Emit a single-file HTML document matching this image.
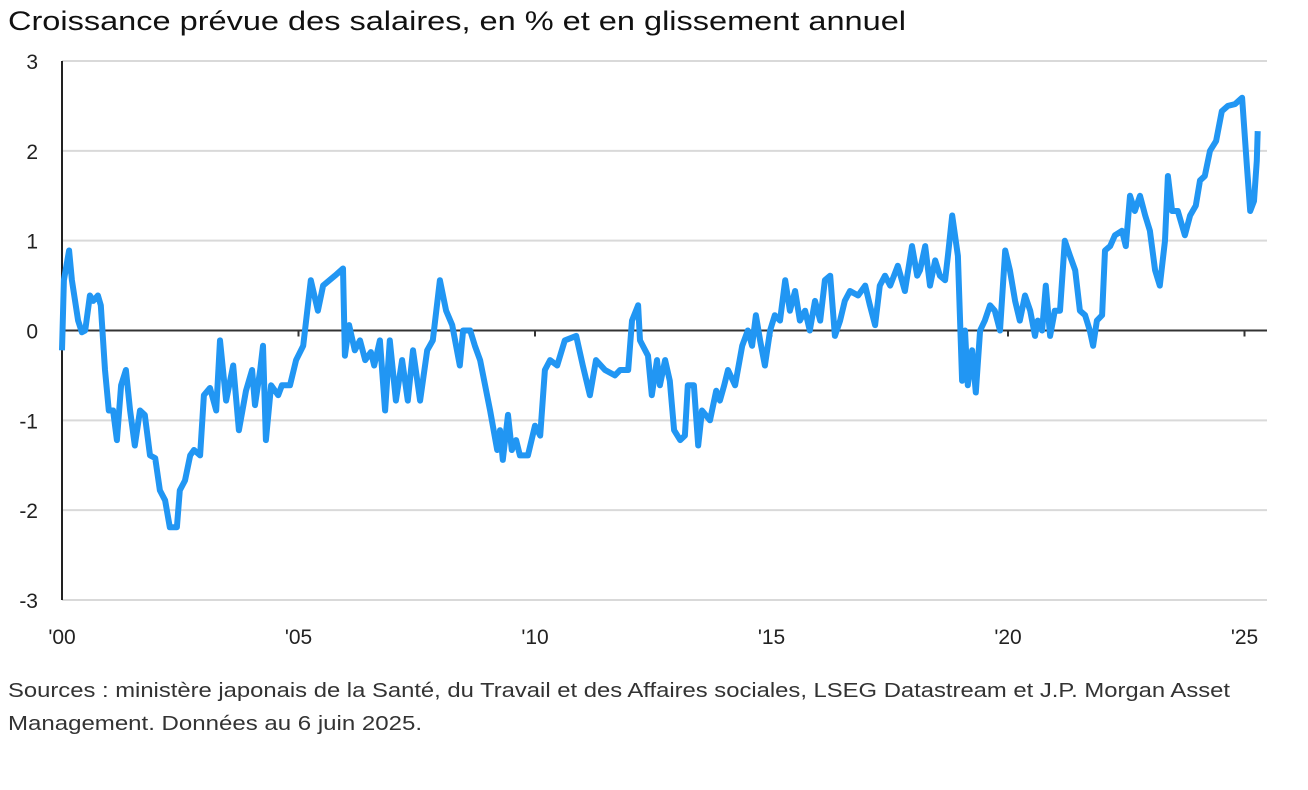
<!DOCTYPE html>
<html><head><meta charset="utf-8">
<style>
html,body{margin:0;padding:0;background:#fff;}
svg{display:block;font-family:"Liberation Sans",Arial,sans-serif;}
</style></head>
<body>
<svg id="chart" width="1308" height="790" viewBox="0 0 1308 790" xmlns="http://www.w3.org/2000/svg">
  <text x="8" y="30" font-size="27" fill="#111" textLength="898" lengthAdjust="spacingAndGlyphs">Croissance prévue des salaires, en % et en glissement annuel</text>
  <g id="grid"></g>
  <g id="yaxis"></g>
  <g id="xaxis"></g>
  <g id="series"></g>
  <text x="8" y="697" font-size="20" fill="#333" textLength="1222" lengthAdjust="spacingAndGlyphs">Sources : ministère japonais de la Santé, du Travail et des Affaires sociales, LSEG Datastream et J.P. Morgan Asset</text>
  <text x="8" y="730" font-size="20" fill="#333" textLength="414" lengthAdjust="spacingAndGlyphs">Management. Données au 6 juin 2025.</text>
</svg>
<script>
const yTicks = [3, 2, 1, 0, -1, -2, -3];
const yTickLabels = ["3", "2", "1", "0", "-1", "-2", "-3"];
const xTicks = [2000, 2005, 2010, 2015, 2020, 2025];
const xTickLabels = ["'00", "'05", "'10", "'15", "'20", "'25"];
const dates = [2000.00,2000.04,2000.15,2000.21,2000.34,2000.42,2000.49,2000.59,2000.66,2000.76,2000.82,2000.91,2000.99,2001.08,2001.16,2001.25,2001.35,2001.44,2001.54,2001.65,2001.75,2001.86,2001.97,2002.07,2002.18,2002.28,2002.43,2002.49,2002.60,2002.71,2002.79,2002.92,2003.00,2003.13,2003.26,2003.34,2003.47,2003.62,2003.74,2003.89,2004.02,2004.08,2004.19,2004.25,2004.31,2004.42,2004.57,2004.65,2004.82,2004.95,2005.10,2005.26,2005.41,2005.52,2005.77,2005.94,2005.98,2006.07,2006.19,2006.30,2006.41,2006.53,2006.60,2006.72,2006.83,2006.93,2007.06,2007.19,2007.31,2007.42,2007.57,2007.72,2007.84,2007.99,2008.12,2008.25,2008.41,2008.48,2008.63,2008.73,2008.84,2009.05,2009.20,2009.26,2009.32,2009.43,2009.51,2009.60,2009.68,2009.85,2010.00,2010.11,2010.21,2010.32,2010.47,2010.63,2010.87,2011.01,2011.16,2011.29,2011.48,2011.69,2011.80,2011.97,2012.05,2012.18,2012.22,2012.39,2012.47,2012.58,2012.64,2012.75,2012.85,2012.94,2013.07,2013.17,2013.23,2013.36,2013.45,2013.53,2013.70,2013.83,2013.91,2014.00,2014.08,2014.23,2014.38,2014.50,2014.59,2014.67,2014.76,2014.86,2014.97,2015.07,2015.18,2015.29,2015.39,2015.50,2015.60,2015.71,2015.81,2015.92,2016.03,2016.13,2016.24,2016.34,2016.45,2016.55,2016.66,2016.83,2016.98,2017.08,2017.19,2017.29,2017.40,2017.51,2017.67,2017.82,2017.97,2018.08,2018.14,2018.25,2018.35,2018.46,2018.56,2018.67,2018.73,2018.82,2018.94,2019.03,2019.09,2019.15,2019.24,2019.32,2019.41,2019.51,2019.62,2019.72,2019.83,2019.94,2020.04,2020.15,2020.25,2020.36,2020.47,2020.57,2020.63,2020.72,2020.80,2020.89,2020.99,2021.10,2021.20,2021.31,2021.42,2021.52,2021.63,2021.73,2021.80,2021.88,2021.99,2022.05,2022.16,2022.26,2022.41,2022.49,2022.58,2022.68,2022.79,2022.90,2023.00,2023.11,2023.21,2023.32,2023.38,2023.47,2023.59,2023.74,2023.85,2023.97,2024.06,2024.16,2024.27,2024.40,2024.52,2024.65,2024.80,2024.95,2025.05,2025.12,2025.20,2025.26,2025.28];
const values = [-0.22,0.56,0.89,0.56,0.11,-0.02,0,0.39,0.33,0.39,0.28,-0.44,-0.89,-0.89,-1.22,-0.61,-0.44,-0.89,-1.28,-0.89,-0.94,-1.39,-1.42,-1.78,-1.89,-2.19,-2.19,-1.78,-1.67,-1.39,-1.33,-1.39,-0.72,-0.64,-0.89,-0.11,-0.78,-0.39,-1.11,-0.67,-0.44,-0.83,-0.44,-0.17,-1.22,-0.61,-0.72,-0.61,-0.61,-0.33,-0.17,0.56,0.22,0.5,0.61,0.69,-0.28,0.06,-0.22,-0.11,-0.33,-0.24,-0.39,-0.11,-0.89,-0.11,-0.78,-0.33,-0.78,-0.22,-0.78,-0.22,-0.11,0.56,0.22,0.06,-0.39,0,0,-0.17,-0.33,-0.89,-1.33,-1.11,-1.44,-0.94,-1.33,-1.22,-1.39,-1.39,-1.06,-1.17,-0.44,-0.33,-0.39,-0.11,-0.06,-0.39,-0.72,-0.33,-0.44,-0.5,-0.44,-0.44,0.11,0.28,-0.11,-0.28,-0.72,-0.33,-0.61,-0.33,-0.56,-1.11,-1.22,-1.17,-0.61,-0.61,-1.28,-0.89,-1.0,-0.67,-0.78,-0.61,-0.44,-0.61,-0.17,0,-0.17,0.17,-0.11,-0.39,0,0.17,0.11,0.56,0.22,0.44,0.11,0.22,0,0.33,0.11,0.56,0.61,-0.06,0.11,0.33,0.44,0.39,0.5,0.28,0.06,0.5,0.61,0.5,0.72,0.44,0.94,0.61,0.67,0.94,0.5,0.78,0.61,0.56,0.83,1.28,0.83,-0.56,0,-0.61,-0.22,-0.69,0,0.11,0.28,0.22,0,0.89,0.67,0.33,0.11,0.39,0.22,-0.06,0.11,0,0.5,-0.06,0.22,0.22,1.0,0.83,0.67,0.22,0.17,0,-0.17,0.11,0.17,0.89,0.94,1.06,1.11,0.94,1.5,1.33,1.5,1.28,1.11,0.67,0.5,1.0,1.72,1.33,1.33,1.06,1.28,1.39,1.67,1.72,2.0,2.11,2.44,2.5,2.52,2.59,1.83,1.33,1.44,1.89,2.22];

const NS = "http://www.w3.org/2000/svg";
const plotLeft = 62, plotRight = 1267, yTop = 61, yBottom = 600;
function xScale(t){ return plotLeft + (t - 2000) * 47.3; }
function yScale(v){ return yBottom - (v + 3) * (yBottom - yTop) / 6; }

const grid = document.getElementById("grid");
const yaxis = document.getElementById("yaxis");
const xaxis = document.getElementById("xaxis");
const series = document.getElementById("series");

yTicks.forEach((v, i) => {
  const y = yScale(v);
  const ln = document.createElementNS(NS, "line");
  ln.setAttribute("x1", plotLeft); ln.setAttribute("x2", plotRight);
  ln.setAttribute("y1", y); ln.setAttribute("y2", y);
  ln.setAttribute("stroke", "#d9d9d9"); ln.setAttribute("stroke-width", "2");
  
  
  grid.appendChild(ln);
  const tx = document.createElementNS(NS, "text");
  tx.setAttribute("x", 38); tx.setAttribute("y", y + 8);
  tx.setAttribute("text-anchor", "end"); tx.setAttribute("font-size", "21");
  tx.setAttribute("fill", "#222");
  tx.textContent = yTickLabels[i];
  
  
  yaxis.appendChild(tx);
});

const zero = document.createElementNS(NS, "line");
zero.setAttribute("x1", plotLeft); zero.setAttribute("x2", plotRight);
zero.setAttribute("y1", yScale(0)); zero.setAttribute("y2", yScale(0));
zero.setAttribute("stroke", "#333"); zero.setAttribute("stroke-width", "2");


xaxis.appendChild(zero);

const yline = document.createElementNS(NS, "line");
yline.setAttribute("x1", plotLeft); yline.setAttribute("x2", plotLeft);
yline.setAttribute("y1", yTop); yline.setAttribute("y2", yBottom);
yline.setAttribute("stroke", "#222"); yline.setAttribute("stroke-width", "2");


yaxis.appendChild(yline);

xTicks.forEach((t, i) => {
  const x = xScale(t);
  const tk = document.createElementNS(NS, "line");
  tk.setAttribute("x1", x); tk.setAttribute("x2", x);
  tk.setAttribute("y1", yScale(0)); tk.setAttribute("y2", yScale(0) + 6);
  tk.setAttribute("stroke", "#333"); tk.setAttribute("stroke-width", "2");
  
  
  xaxis.appendChild(tk);
  const tx = document.createElementNS(NS, "text");
  tx.setAttribute("x", x); tx.setAttribute("y", 644);
  tx.setAttribute("text-anchor", "middle"); tx.setAttribute("font-size", "21");
  tx.setAttribute("fill", "#222");
  tx.textContent = xTickLabels[i];
  
  
  xaxis.appendChild(tx);
});

const pts = dates.map((t, i) => xScale(t).toFixed(1) + "," + yScale(values[i]).toFixed(1)).join(" ");
const pl = document.createElementNS(NS, "polyline");
pl.setAttribute("points", pts);
pl.setAttribute("fill", "none");
pl.setAttribute("stroke", "#2196f3");
pl.setAttribute("stroke-width", "6");
pl.setAttribute("stroke-linejoin", "round");


series.appendChild(pl);
</script>
</body></html>
